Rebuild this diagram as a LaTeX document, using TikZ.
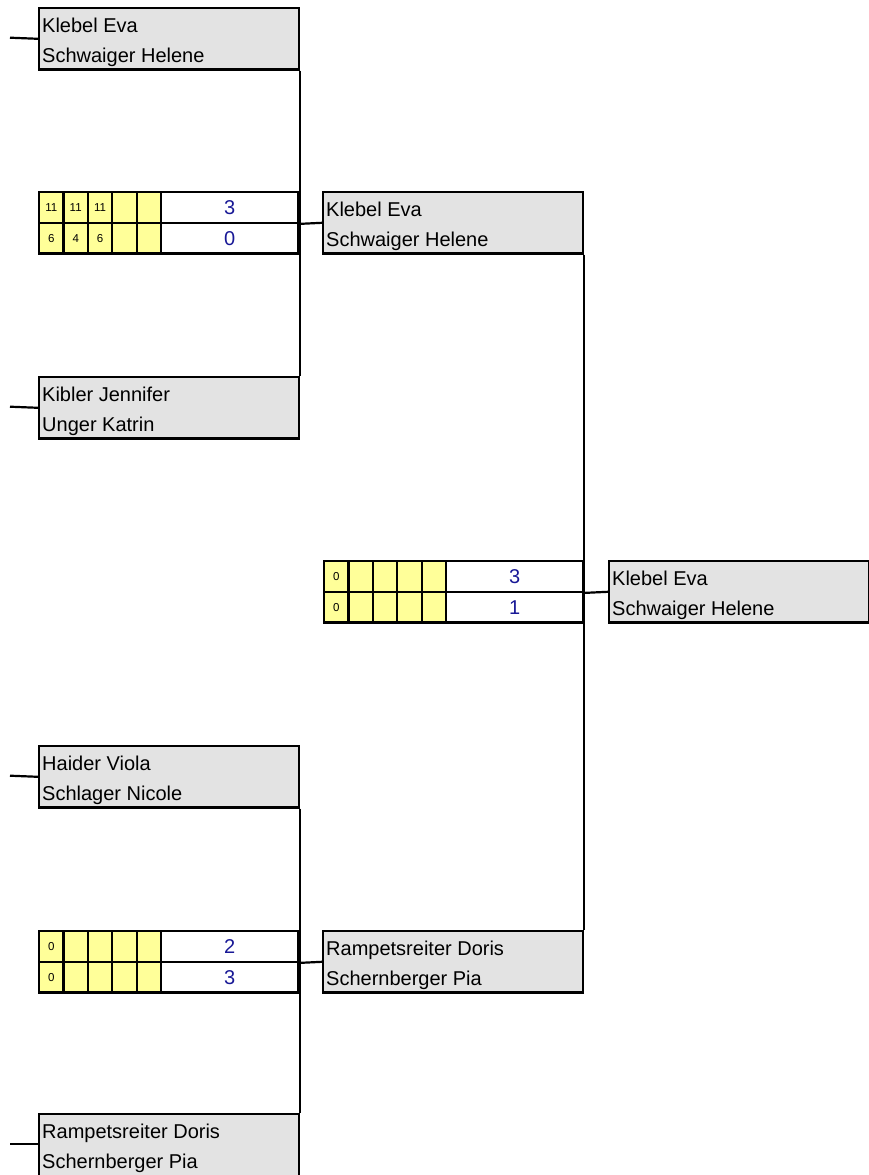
\documentclass[tikz,border=0pt]{standalone}
\usepackage{fontspec}
\setmainfont{Liberation Sans}

\definecolor{boxgray}{RGB}{227,227,227}
\definecolor{setyellow}{RGB}{255,255,153}
\definecolor{scoreblue}{RGB}{24,24,150}

\newcommand{\namefont}{\fontsize{20}{24}\selectfont}
\newcommand{\gamefont}{\fontsize{11.5}{13}\selectfont}

\tikzset{
  link/.style={line width=2.2pt},
  namebox/.style={draw, link, fill=boxgray, minimum width=259.5pt, minimum height=61.4pt, anchor=north west, inner sep=0pt},
  nametext/.style={anchor=base west, inner sep=0pt, font=\namefont},
  setcell/.style={draw, link, fill=setyellow, minimum width=24.4pt, minimum height=30.7pt, anchor=north west, inner sep=0pt, font=\gamefont},
  scorecell/.style={draw, link, fill=white, minimum width=137pt, minimum height=30.7pt, anchor=north west, inner sep=0pt, font=\namefont, text=scoreblue},
}

\begin{document}
\begin{tikzpicture}[x=1pt, y=-1pt]
        \useasboundingbox (0,0) rectangle (869,1175);

        % first round
        \node[namebox] (p1) at (38,7) {};
        \node[nametext] (p1a) at (42,32) {Klebel Eva};
        \node[nametext] (p1b) at (42,62.7) {Schwaiger Helene};

        \node[namebox] (p2) at (38,376) {};
        \node[nametext] (p2a) at (42,401) {Kibler Jennifer};
        \node[nametext] (p2b) at (42,431.7) {Unger Katrin};

        \node[namebox] (p3) at (38,745) {};
        \node[nametext] (p3a) at (42,770) {Haider Viola};
        \node[nametext] (p3b) at (42,800.7) {Schlager Nicole};

        \node[namebox, minimum height=66pt] (p4) at (38,1113) {};
        \node[nametext] (p4a) at (42,1138) {Rampetsreiter Doris};
        \node[nametext] (p4b) at (42,1168.7) {Schernberger Pia};

        \coordinate (l1) at (10,37.7);
        \coordinate (l2) at (10,406.7);
        \coordinate (l3) at (10,775.7);
        \coordinate (l4) at (10,1143.7);
        \draw[link] (l1) -- (p1.west);
        \draw[link] (l2) -- (p2.west);
        \draw[link] (l3) -- (p3.west);
        \draw[link] (l4) -- (l4 -| p4.west);

        % second round
        \node[namebox] (q1) at (322,191) {};
        \node[nametext] (q1a) at (326,216) {Klebel Eva};
        \node[nametext] (q1b) at (326,246.7) {Schwaiger Helene};

        \node[namebox] (q2) at (322,930) {};
        \node[nametext] (q2a) at (326,955) {Rampetsreiter Doris};
        \node[nametext] (q2b) at (326,985.7) {Schernberger Pia};

        % final
        \node[namebox] (f1) at (608,560) {};
        \node[nametext] (f1a) at (612,585) {Klebel Eva};
        \node[nametext] (f1b) at (612,615.7) {Schwaiger Helene};

        % score boxes
        \foreach \i/\sa/\sb in {0/11/6, 1/11/4, 2/11/6, 3/{}/{}, 4/{}/{}} {
            \node[setcell] (s1t\i) at (38+24.4*\i,191) {\sa};
            \node[setcell] (s1b\i) at (38+24.4*\i,221.7) {\sb};
        }
        \node[scorecell] (s1t) at (160,191) {3};
        \node[scorecell] (s1b) at (160,221.7) {0};

        \foreach \i/\sa/\sb in {0/0/0, 1/{}/{}, 2/{}/{}, 3/{}/{}, 4/{}/{}} {
            \node[setcell] (s2t\i) at (323+24.4*\i,560) {\sa};
            \node[setcell] (s2b\i) at (323+24.4*\i,590.7) {\sb};
        }
        \node[scorecell] (s2t) at (445,560) {3};
        \node[scorecell] (s2b) at (445,590.7) {1};

        \foreach \i/\sa/\sb in {0/0/0, 1/{}/{}, 2/{}/{}, 3/{}/{}, 4/{}/{}} {
            \node[setcell] (s3t\i) at (38+24.4*\i,930) {\sa};
            \node[setcell] (s3b\i) at (38+24.4*\i,960.7) {\sb};
        }
        \node[scorecell] (s3t) at (160,930) {2};
        \node[scorecell] (s3b) at (160,960.7) {3};

        % bracket lines
        \draw[link] (p1.south east) -- (p2.north east);
        \draw[link] (s1t.south east) -- (q1.west);
        \draw[link] (p3.south east) -- (p4.north east);
        \draw[link] (s3t.south east) -- (q2.west);
        \draw[link] (q1.south east) -- (q2.north east);
        \draw[link] (s2t.south east) -- (f1.west);
\end{tikzpicture}
\end{document}
